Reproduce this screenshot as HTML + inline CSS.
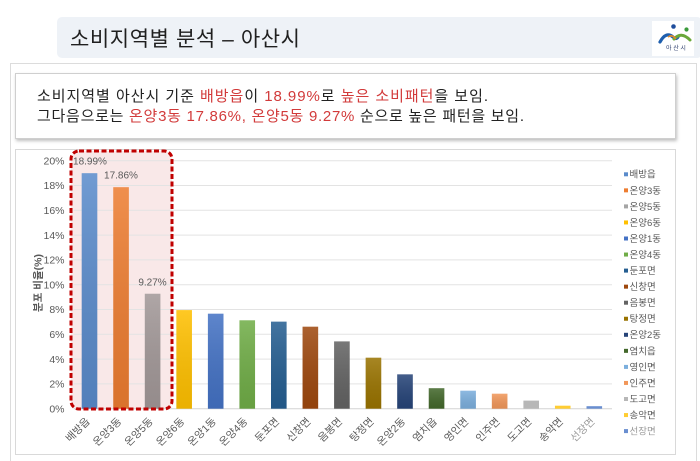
<!DOCTYPE html>
<html><head><meta charset="utf-8"><style>
html,body{margin:0;padding:0;background:#fff;}
svg{display:block;}
text{font-family:"Liberation Sans","Noto Sans CJK KR",sans-serif;}
</style></head><body>
<svg width="700" height="461" viewBox="0 0 700 461" xmlns="http://www.w3.org/2000/svg">
<defs>
<filter id="sh" x="-5%" y="-20%" width="110%" height="150%"><feDropShadow dx="1" dy="2" stdDeviation="1.5" flood-color="#000" flood-opacity="0.25"/></filter>
<linearGradient id="shade" x1="0" y1="0" x2="0" y2="1"><stop offset="0" stop-color="#fff" stop-opacity="0.14"/><stop offset="1" stop-color="#000" stop-opacity="0.08"/></linearGradient>
</defs>
<rect x="0" y="0" width="700" height="461" fill="#fff"/>
<!-- title banner -->
<rect x="57" y="17" width="645" height="41" rx="5" fill="#eef2f7"/>
<text x="70" y="46" font-size="21" fill="#1f1f1f" textLength="230" lengthAdjust="spacing">소비지역별 분석 – 아산시</text>
<!-- logo -->
<rect x="652" y="21" width="42" height="35" fill="#fff"/>
<circle cx="673.5" cy="26.5" r="2.3" fill="#1f4e9c"/>
<circle cx="686.5" cy="29.5" r="2.1" fill="#3a9a3a"/>
<path d="M660 42 Q666 31 673 37 Q676 40 678 37" stroke="#1f5fae" stroke-width="3.2" fill="none" stroke-linecap="round"/>
<path d="M674 39 Q681 31 690 40" stroke="#6aa83a" stroke-width="3" fill="none" stroke-linecap="round"/>
<path d="M668 37 Q672 34 676 39" stroke="#e08a2a" stroke-width="1.6" fill="none"/>
<text x="676" y="50" font-size="6" fill="#2b3b6b" text-anchor="middle">아 산 시</text>
<!-- outer panel -->
<rect x="10.5" y="63.5" width="686" height="402" fill="#fff" stroke="#dcdcdc"/>
<!-- text box -->
<rect x="15.5" y="73.5" width="660" height="65" fill="#fff" stroke="#cfcfcf" filter="url(#sh)"/>
<text x="37" y="101" font-size="15" fill="#222" textLength="451" lengthAdjust="spacing">소비지역별 아산시 기준 <tspan fill="#d23a3a">배방읍</tspan>이 <tspan fill="#d23a3a">18.99%</tspan>로 <tspan fill="#d23a3a">높은 소비패턴</tspan>을 보임.</text>
<text x="37" y="121" font-size="15" fill="#222" textLength="487" lengthAdjust="spacing">그다음으로는 <tspan fill="#d23a3a">온양3동 17.86%, 온양5동 9.27%</tspan> 순으로 높은 패턴을 보임.</text>
<!-- chart box -->
<rect x="15.5" y="149.5" width="660" height="305" fill="#fff" stroke="#d9d9d9"/>
<!-- highlight fill -->
<rect x="71" y="151" width="101" height="258" rx="8" fill="#f9e8e8"/>
<!-- gridlines -->
<g stroke="#e3e3e3" stroke-width="1">
<line x1="73.7" y1="383.9" x2="612" y2="383.9"/>
<line x1="73.7" y1="359.1" x2="612" y2="359.1"/>
<line x1="73.7" y1="334.3" x2="612" y2="334.3"/>
<line x1="73.7" y1="309.5" x2="612" y2="309.5"/>
<line x1="73.7" y1="284.7" x2="612" y2="284.7"/>
<line x1="73.7" y1="259.9" x2="612" y2="259.9"/>
<line x1="73.7" y1="235.1" x2="612" y2="235.1"/>
<line x1="73.7" y1="210.3" x2="612" y2="210.3"/>
<line x1="73.7" y1="185.5" x2="612" y2="185.5"/>
<line x1="73.7" y1="160.7" x2="612" y2="160.7"/>
</g>
<line x1="73.7" y1="408.7" x2="612" y2="408.7" stroke="#d4d4d4"/>
<!-- y labels -->
<g font-size="10.5" fill="#595959" text-anchor="end">
<text x="64.5" y="412.4">0%</text>
<text x="64.5" y="387.6">2%</text>
<text x="64.5" y="362.8">4%</text>
<text x="64.5" y="338">6%</text>
<text x="64.5" y="313.2">8%</text>
<text x="64.5" y="288.4">10%</text>
<text x="64.5" y="263.6">12%</text>
<text x="64.5" y="238.8">14%</text>
<text x="64.5" y="214">16%</text>
<text x="64.5" y="189.2">18%</text>
<text x="64.5" y="164.4">20%</text>
</g>
<text transform="translate(41.5,283) rotate(-90)" font-size="10.5" font-weight="bold" fill="#595959" text-anchor="middle">분포 비율(%)</text>
<!-- bars -->
<g>
<rect x="81.7" y="173.2" width="15.6" height="235.5" fill="#5a8bcb"/>
<rect x="113.25" y="187.2" width="15.6" height="221.5" fill="#ed7d31"/>
<rect x="144.8" y="293.75" width="15.6" height="114.95" fill="#a29898"/>
<rect x="176.35" y="310.1" width="15.6" height="98.6" fill="#ffc000"/>
<rect x="207.9" y="313.7" width="15.6" height="95" fill="#4472c4"/>
<rect x="239.45" y="320.3" width="15.6" height="88.4" fill="#70ad47"/>
<rect x="271" y="321.65" width="15.6" height="87.05" fill="#255e91"/>
<rect x="302.55" y="326.7" width="15.6" height="82" fill="#9e480e"/>
<rect x="334.1" y="341.4" width="15.6" height="67.3" fill="#636363"/>
<rect x="365.65" y="357.7" width="15.6" height="51" fill="#997300"/>
<rect x="397.2" y="374.35" width="15.6" height="34.35" fill="#264478"/>
<rect x="428.75" y="388.2" width="15.6" height="20.5" fill="#43682b"/>
<rect x="460.3" y="390.7" width="15.6" height="18" fill="#7cafdd"/>
<rect x="491.85" y="393.7" width="15.6" height="15" fill="#f1975a"/>
<rect x="523.4" y="400.6" width="15.6" height="8.1" fill="#b7b7b7"/>
<rect x="554.95" y="405.7" width="15.6" height="3" fill="#ffcd33"/>
<rect x="586.5" y="406.2" width="15.6" height="2.5" fill="#698ed0"/>
</g>
<g fill="url(#shade)">
<rect x="81.7" y="173.2" width="15.6" height="235.5"/>
<rect x="113.25" y="187.2" width="15.6" height="221.5"/>
<rect x="144.8" y="293.75" width="15.6" height="114.95"/>
<rect x="176.35" y="310.1" width="15.6" height="98.6"/>
<rect x="207.9" y="313.7" width="15.6" height="95"/>
<rect x="239.45" y="320.3" width="15.6" height="88.4"/>
<rect x="271" y="321.65" width="15.6" height="87.05"/>
<rect x="302.55" y="326.7" width="15.6" height="82"/>
<rect x="334.1" y="341.4" width="15.6" height="67.3"/>
<rect x="365.65" y="357.7" width="15.6" height="51"/>
<rect x="397.2" y="374.35" width="15.6" height="34.35"/>
<rect x="428.75" y="388.2" width="15.6" height="20.5"/>
<rect x="460.3" y="390.7" width="15.6" height="18"/>
<rect x="491.85" y="393.7" width="15.6" height="15"/>
</g>
<!-- data labels -->
<g font-size="10" fill="#595959" text-anchor="middle">
<text x="90" y="164.4">18.99%</text>
<text x="121" y="178.7">17.86%</text>
<text x="152.5" y="285.4">9.27%</text>
</g>
<!-- highlight border -->
<rect x="71" y="151" width="101" height="258" rx="8" fill="none" stroke="#c00000" stroke-width="3" stroke-dasharray="5 2.5"/>
<!-- x labels -->
<g font-size="10.5" fill="#595959" text-anchor="end">
<text x="90.5" y="422" transform="rotate(-45 90.5 422)">배방읍</text>
<text x="122.05" y="422" transform="rotate(-45 122.05 422)">온양3동</text>
<text x="153.6" y="422" transform="rotate(-45 153.6 422)">온양5동</text>
<text x="185.15" y="422" transform="rotate(-45 185.15 422)">온양6동</text>
<text x="216.7" y="422" transform="rotate(-45 216.7 422)">온양1동</text>
<text x="248.25" y="422" transform="rotate(-45 248.25 422)">온양4동</text>
<text x="279.8" y="422" transform="rotate(-45 279.8 422)">둔포면</text>
<text x="311.35" y="422" transform="rotate(-45 311.35 422)">신창면</text>
<text x="342.9" y="422" transform="rotate(-45 342.9 422)">음봉면</text>
<text x="374.45" y="422" transform="rotate(-45 374.45 422)">탕정면</text>
<text x="406" y="422" transform="rotate(-45 406 422)">온양2동</text>
<text x="437.55" y="422" transform="rotate(-45 437.55 422)">염치읍</text>
<text x="469.1" y="422" transform="rotate(-45 469.1 422)">영인면</text>
<text x="500.65" y="422" transform="rotate(-45 500.65 422)">인주면</text>
<text x="532.2" y="422" transform="rotate(-45 532.2 422)">도고면</text>
<text x="563.75" y="422" transform="rotate(-45 563.75 422)">송악면</text>
<text x="595.3" y="422" transform="rotate(-45 595.3 422)" fill="#9a9a9a">선장면</text>
</g>
<!-- legend -->
<g>
<rect x="624" y="172.3" width="4" height="4" fill="#5a8bcb"/>
<rect x="624" y="188.35" width="4" height="4" fill="#ed7d31"/>
<rect x="624" y="204.4" width="4" height="4" fill="#a5a5a5"/>
<rect x="624" y="220.45" width="4" height="4" fill="#ffc000"/>
<rect x="624" y="236.5" width="4" height="4" fill="#4472c4"/>
<rect x="624" y="252.55" width="4" height="4" fill="#70ad47"/>
<rect x="624" y="268.6" width="4" height="4" fill="#255e91"/>
<rect x="624" y="284.65" width="4" height="4" fill="#9e480e"/>
<rect x="624" y="300.7" width="4" height="4" fill="#636363"/>
<rect x="624" y="316.75" width="4" height="4" fill="#997300"/>
<rect x="624" y="332.8" width="4" height="4" fill="#264478"/>
<rect x="624" y="348.85" width="4" height="4" fill="#43682b"/>
<rect x="624" y="364.9" width="4" height="4" fill="#7cafdd"/>
<rect x="624" y="380.95" width="4" height="4" fill="#f1975a"/>
<rect x="624" y="397" width="4" height="4" fill="#b7b7b7"/>
<rect x="624" y="413.05" width="4" height="4" fill="#ffcd33"/>
<rect x="624" y="429.1" width="4" height="4" fill="#698ed0"/>
</g>
<g font-size="9.5" fill="#595959">
<text x="629.5" y="177.7">배방읍</text>
<text x="629.5" y="193.75">온양3동</text>
<text x="629.5" y="209.8">온양5동</text>
<text x="629.5" y="225.85">온양6동</text>
<text x="629.5" y="241.9">온양1동</text>
<text x="629.5" y="257.95">온양4동</text>
<text x="629.5" y="274">둔포면</text>
<text x="629.5" y="290.05">신창면</text>
<text x="629.5" y="306.1">음봉면</text>
<text x="629.5" y="322.15">탕정면</text>
<text x="629.5" y="338.2">온양2동</text>
<text x="629.5" y="354.25">염치읍</text>
<text x="629.5" y="370.3">영인면</text>
<text x="629.5" y="386.35">인주면</text>
<text x="629.5" y="402.4">도고면</text>
<text x="629.5" y="418.45">송악면</text>
<text x="629.5" y="434.5" fill="#9a9a9a">선장면</text>
</g>
</svg>
</body></html>
